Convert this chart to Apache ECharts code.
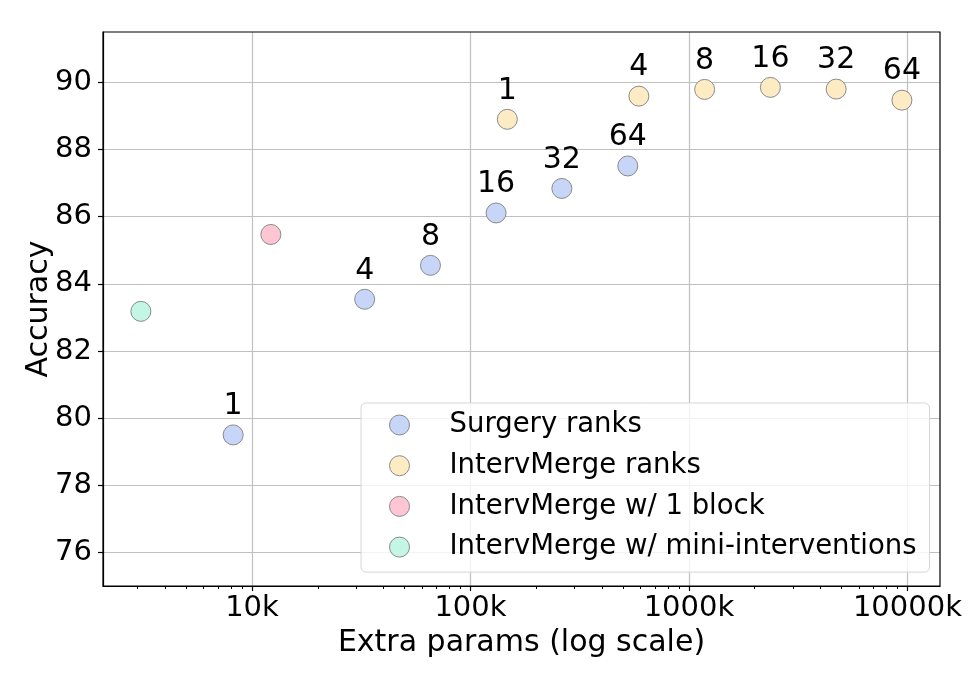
<!DOCTYPE html>
<html>
<head>
<meta charset="utf-8">
<script src="https://cdn.jsdelivr.net/npm/echarts@6/dist/echarts.min.js"></script>
<style>html,body{margin:0;padding:0;background:#fff}#c{width:979px;height:677px}</style>
</head>
<body>
<div id="c"></div>
<script>
// ---- data ----
const surgeryParams = [8200, 32800, 65600, 131000, 262000, 525000];
const surgeryAcc    = [79.5, 83.54, 84.55, 86.11, 86.84, 87.51];
const surgeryRanks  = ['1', '4', '8', '16', '32', '64'];

const mergeParams = [147500, 590000, 1180000, 2360000, 4720000, 9440000];
const mergeAcc    = [88.9, 89.59, 89.79, 89.85, 89.8, 89.47];
const mergeRanks  = ['1', '4', '8', '16', '32', '64'];

const blockParams = [12200];
const blockAcc    = [85.47];

const miniParams = [3100];
const miniAcc    = [83.18];

const xMajorTicks = [10000, 100000, 1000000, 10000000];
const xMinorTicks = [3000, 4000, 5000, 6000, 7000, 8000, 9000,
  20000, 30000, 40000, 50000, 60000, 70000, 80000, 90000,
  200000, 300000, 400000, 500000, 600000, 700000, 800000, 900000,
  2000000, 3000000, 4000000, 5000000, 6000000, 7000000, 8000000, 9000000];
const yTicks = [76, 78, 80, 82, 84, 86, 88, 90];

const seriesNames = ['Surgery ranks', 'IntervMerge ranks', 'IntervMerge w/ 1 block', 'IntervMerge w/ mini-interventions'];

// ---- build ----
const zip = (xs, ys) => xs.map((x, i) => [x, ys[i]]);
const FONT = 'DejaVu Sans';
const edge = { borderColor: '#8a8a8a', borderWidth: 1 };

function scatter(name, data, color, labels) {
  const s = {
    name, type: 'scatter', data, symbol: 'circle', symbolSize: 20,
    itemStyle: Object.assign({ color, opacity: 1 }, edge),
    emphasis: { disabled: true },
    z: 3
  };
  if (labels) {
    s.label = {
      show: true, position: 'top', distance: 3,
      formatter: p => labels[p.dataIndex],
      fontFamily: FONT, fontSize: 30, color: '#000'
    };
  }
  return s;
}

const chart = echarts.init(document.getElementById('c'), null, { renderer: 'canvas' });
chart.setOption({
  backgroundColor: '#fff',
  animation: false,
  grid: { left: 103, right: 39, top: 32, bottom: 91, show: true, borderColor: '#000', borderWidth: 1.2, backgroundColor: 'transparent', z: 4 },
  legend: {
    orient: 'vertical', left: 361, top: 403,
    data: seriesNames,
    icon: 'circle', itemWidth: 20, itemHeight: 20, itemGap: 10.7,
    padding: [7, 13, 10, 28],
    backgroundColor: 'rgba(255,255,255,0.8)',
    borderColor: '#d6d6d6', borderWidth: 1, borderRadius: 5,
    itemStyle: { borderColor: '#8a8a8a', borderWidth: 1 },
    textStyle: { fontFamily: FONT, fontSize: 27.5, color: '#000', lineHeight: 30, padding: [0, 0, 0, 35] },
    selectedMode: false,
    z: 10
  },
  xAxis: [{
    type: 'log', logBase: 10, min: 2080, max: 14100000,
    name: 'Extra params (log scale)', nameLocation: 'middle', nameGap: 40,
    nameTextStyle: { fontFamily: FONT, fontSize: 30, color: '#000' },
    axisLine: { show: true, lineStyle: { color: '#000', width: 1.2 } },
    axisTick: { show: true, length: 5, lineStyle: { color: '#000', width: 1.2 }, customValues: xMajorTicks },
    axisLabel: { fontFamily: FONT, fontSize: 29, color: '#000', margin: 8, customValues: xMajorTicks,
      formatter: v => Math.round(v / 1000) + 'k' },
    splitLine: { show: true, lineStyle: { color: '#c0c0c0', width: 1.2 } },
    minorTick: { show: false }
  }, {
    type: 'log', logBase: 10, min: 2080, max: 14100000, position: 'bottom',
    axisLine: { show: false },
    axisTick: { show: true, length: 3, lineStyle: { color: '#000', width: 1 }, customValues: xMinorTicks },
    axisLabel: { show: false },
    splitLine: { show: false }
  }],
  yAxis: {
    type: 'value', min: 75, max: 91.5, splitNumber: 8,
    name: 'Accuracy', nameLocation: 'middle', nameGap: 49, nameMoveOverlap: false,
    nameTextStyle: { fontFamily: FONT, fontSize: 30, color: '#000' },
    axisLine: { show: true, lineStyle: { color: '#000', width: 1.2 } },
    axisTick: { show: true, length: 5, lineStyle: { color: '#000', width: 1.2 }, customValues: yTicks },
    axisLabel: { fontFamily: FONT, fontSize: 29, color: '#000', margin: 11, customValues: yTicks },
    splitLine: { show: true, lineStyle: { color: '#c0c0c0', width: 1.2 } }
  },
  series: [
    scatter(seriesNames[0], zip(surgeryParams, surgeryAcc), '#c6d5f8', surgeryRanks),
    scatter(seriesNames[1], zip(mergeParams, mergeAcc), '#fdebc4', mergeRanks),
    scatter(seriesNames[2], zip(blockParams, blockAcc), '#fec6d3', null),
    scatter(seriesNames[3], zip(miniParams, miniAcc), '#c4f6e6', null)
  ]
});
</script>
</body>
</html>
